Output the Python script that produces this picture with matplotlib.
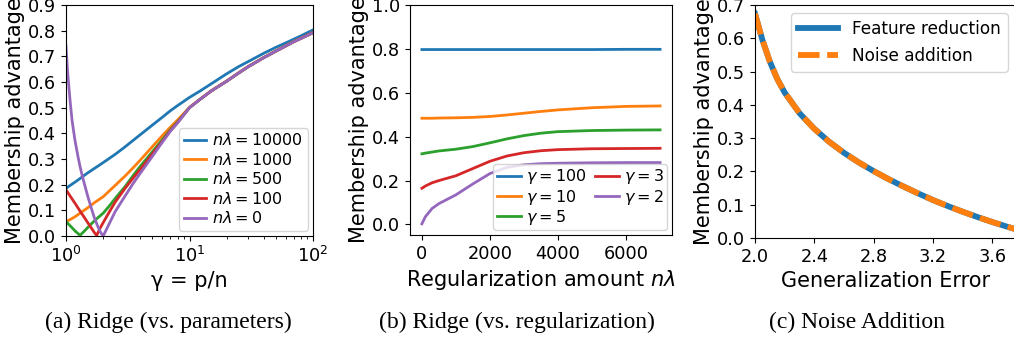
import matplotlib
matplotlib.use("Agg")
import matplotlib.pyplot as plt

# ---------------------------------------------
# (a) Ridge vs. parameters  (gamma = p/n, log x)
# ---------------------------------------------
gamma_blue = [1.0, 1.2, 1.5, 2.0, 2.5, 3.0, 4.0, 5.0, 6.0, 7.0, 8.0, 10.0, 12.0, 15.0, 20.0,
              25.0, 30.0, 40.0, 50.0, 60.0, 70.0, 80.0, 100.0]
adv_blue = [0.186, 0.212, 0.246, 0.286, 0.318, 0.347, 0.395, 0.432, 0.462, 0.488, 0.508, 0.54,
            0.563, 0.593, 0.632, 0.66, 0.68, 0.712, 0.735, 0.752, 0.767, 0.78, 0.803]

gamma_orange = [1.0, 1.1, 1.2, 1.3, 1.5, 1.7, 2.0, 2.5, 3.0, 3.5, 4.0, 5.0, 6.0, 7.0, 8.0, 10.0,
                12.0, 15.0, 20.0, 25.0, 30.0, 40.0, 50.0, 60.0, 70.0, 80.0, 100.0]
adv_orange = [0.056, 0.066, 0.077, 0.089, 0.11, 0.13, 0.153, 0.197, 0.233, 0.266, 0.296, 0.348,
              0.39, 0.424, 0.452, 0.501, 0.531, 0.566, 0.604, 0.636, 0.661, 0.696, 0.721, 0.741,
              0.758, 0.771, 0.793]

gamma_green = [1.0, 1.1, 1.2, 1.3, 1.4, 1.5, 1.6, 1.8, 2.0, 2.25, 2.5, 3.0, 3.5, 4.0, 5.0, 6.0,
               7.0, 8.0, 10.0, 12.0, 15.0, 20.0, 25.0, 30.0, 40.0, 50.0, 60.0, 70.0, 80.0, 100.0]
adv_green = [0.056, 0.036, 0.017, 0.003, 0.018, 0.033, 0.047, 0.07, 0.089, 0.118, 0.146, 0.192,
             0.236, 0.272, 0.328, 0.374, 0.414, 0.444, 0.5, 0.53, 0.565, 0.603, 0.635, 0.66,
             0.695, 0.72, 0.74, 0.757, 0.77, 0.792]

gamma_red = [1.0, 1.1, 1.2, 1.3, 1.4, 1.5, 1.6, 1.7, 1.77, 1.9, 2.0, 2.25, 2.5, 3.0, 3.5, 4.0,
             5.0, 6.0, 7.0, 8.0, 10.0, 12.0, 15.0, 20.0, 25.0, 30.0, 40.0, 50.0, 60.0, 70.0,
             80.0, 100.0]
adv_red = [0.18, 0.15, 0.123, 0.097, 0.074, 0.052, 0.032, 0.013, 0.002, 0.033, 0.052, 0.095,
           0.132, 0.185, 0.226, 0.26, 0.32, 0.368, 0.411, 0.442, 0.5, 0.53, 0.565, 0.603, 0.635,
           0.66, 0.695, 0.72, 0.74, 0.757, 0.77, 0.792]

gamma_purple = [1.0, 1.03, 1.077, 1.12, 1.18, 1.25, 1.3, 1.38, 1.5, 1.6, 1.7, 1.8, 1.9, 2.0,
                2.25, 2.5, 3.0, 3.5, 4.0, 5.0, 6.0, 7.0, 8.0, 10.0, 12.0, 15.0, 20.0, 25.0,
                30.0, 40.0, 50.0, 60.0, 70.0, 80.0, 100.0]
adv_purple = [0.739, 0.64, 0.531, 0.45, 0.375, 0.31, 0.27, 0.219, 0.155, 0.11, 0.07, 0.04, 0.015,
              0.0, 0.05, 0.095, 0.155, 0.205, 0.245, 0.31, 0.364, 0.408, 0.44, 0.5, 0.53, 0.565,
              0.603, 0.635, 0.66, 0.695, 0.72, 0.74, 0.757, 0.77, 0.792]

labels_a = [r"$n\lambda = 10000$", r"$n\lambda = 1000$", r"$n\lambda = 500$",
            r"$n\lambda = 100$", r"$n\lambda = 0$"]

# ---------------------------------------------
# (b) Ridge vs. regularization amount
# ---------------------------------------------
reg_x = [0, 100, 300, 500, 1000, 1500, 2000, 2500, 3000, 3500, 4000, 5000, 6000, 7000]
adv_g100 = [0.797, 0.797, 0.797, 0.797, 0.797, 0.797, 0.797, 0.797, 0.797, 0.797, 0.797, 0.797, 0.798, 0.798]
adv_g10 = [0.484, 0.484, 0.484, 0.485, 0.486, 0.488, 0.492, 0.499, 0.507, 0.515, 0.522, 0.532, 0.538, 0.540]
adv_g5 = [0.322, 0.325, 0.33, 0.335, 0.343, 0.355, 0.372, 0.39, 0.405, 0.416, 0.423, 0.428, 0.43, 0.431]
adv_g3 = [0.165, 0.175, 0.19, 0.2, 0.222, 0.255, 0.288, 0.312, 0.327, 0.336, 0.341, 0.345, 0.346, 0.347]
adv_g2 = [0.003, 0.035, 0.073, 0.095, 0.135, 0.185, 0.232, 0.26, 0.272, 0.277, 0.279, 0.281, 0.282, 0.282]
labels_b = [r"$\gamma = 100$", r"$\gamma = 10$", r"$\gamma = 5$", r"$\gamma = 3$", r"$\gamma = 2$"]

# ---------------------------------------------
# (c) Noise addition vs. feature reduction
# ---------------------------------------------
gen_err = [2.0, 2.05, 2.1, 2.15, 2.2, 2.3, 2.4, 2.5, 2.6, 2.7, 2.8, 2.9, 3.0, 3.1, 3.2, 3.3,
           3.4, 3.5, 3.6, 3.7, 3.76]
adv_c = [0.674, 0.595, 0.53, 0.478, 0.437, 0.375, 0.328, 0.289, 0.256, 0.227, 0.201, 0.177,
         0.155, 0.134, 0.114, 0.096, 0.079, 0.063, 0.048, 0.034, 0.026]

captions = ["(a) Ridge (vs. parameters)", "(b) Ridge (vs. regularization)", "(c) Noise Addition"]

W, H = 1014, 341
fig = plt.figure(figsize=(W / 100, H / 100), dpi=100)

def box(l, r, t, b):
    return [l / W, 1 - b / H, (r - l) / W, (b - t) / H]

TICK = 12.8
LAB = 15

# --- panel a
ax1 = fig.add_axes(box(66, 313, 5, 236))
ax1.plot(gamma_blue, adv_blue, lw=2, label=labels_a[0])
ax1.plot(gamma_orange, adv_orange, lw=2, label=labels_a[1])
ax1.plot(gamma_green, adv_green, lw=2, label=labels_a[2])
ax1.plot(gamma_red, adv_red, lw=2, label=labels_a[3])
ax1.plot(gamma_purple, adv_purple, lw=2, label=labels_a[4])
ax1.set_xscale("log")
ax1.set_xlim(1, 100)
ax1.set_ylim(0, 0.9)
ax1.set_yticks([0.0, 0.1, 0.2, 0.3, 0.4, 0.5, 0.6, 0.7, 0.8, 0.9])
ax1.tick_params(labelsize=TICK)
ax1.set_xlabel("γ = p/n", fontsize=LAB)
ax1.set_ylabel("Membership advantage", fontsize=LAB, labelpad=2)
ax1.legend(loc="lower right", fontsize=11.5, handlelength=1.4, handletextpad=0.4,
           borderpad=0.3, labelspacing=0.22, borderaxespad=0.3)

# --- panel b
ax2 = fig.add_axes(box(410, 672, 5, 235))
ax2.plot(reg_x, adv_g100, lw=2, label=labels_b[0])
ax2.plot(reg_x, adv_g10, lw=2, label=labels_b[1])
ax2.plot(reg_x, adv_g5, lw=2, label=labels_b[2])
ax2.plot(reg_x, adv_g3, lw=2, label=labels_b[3])
ax2.plot(reg_x, adv_g2, lw=2, label=labels_b[4])
ax2.set_xlim(-350, 7350)
ax2.set_ylim(-0.048, 1.0)
ax2.set_xticks([0, 2000, 4000, 6000])
ax2.tick_params(labelsize=TICK)
ax2.set_xlabel(r"Regularization amount $n\lambda$", fontsize=LAB)
ax2.set_ylabel("Membership advantage", fontsize=LAB, labelpad=2)
ax2.legend(loc="lower right", ncol=2, fontsize=11.5, handlelength=1.5, handletextpad=0.35,
           borderpad=0.2, labelspacing=0.08, columnspacing=0.5, borderaxespad=0.3)

# --- panel c (right edge runs past the figure, as in the reference)
ax3 = fig.add_axes(box(755, 1016, 5, 238))
ax3.plot(gen_err, adv_c, lw=4.2, color="#1f77b4", label="Feature reduction")
ax3.plot(gen_err, adv_c, lw=4.2, color="#ff7f0e", ls=(0, (3.7, 1.3)), label="Noise addition")
ax3.set_xlim(2.0, 3.76)
ax3.set_ylim(0, 0.7)
ax3.set_xticks([2.0, 2.4, 2.8, 3.2, 3.6])
ax3.set_yticks([0.0, 0.1, 0.2, 0.3, 0.4, 0.5, 0.6, 0.7])
ax3.tick_params(labelsize=TICK)
ax3.set_xlabel("Generalization Error", fontsize=LAB)
ax3.set_ylabel("Membership advantage", fontsize=LAB, labelpad=2)
ax3.legend(loc="upper right", fontsize=12.2, handlelength=2.4)

# captions under each panel
for cx, txt in zip([168, 517, 857], captions):
    fig.text(cx / W, 1 - 322 / H, txt, ha="center", va="center",
             family="Liberation Serif", fontsize=17)

fig.savefig("out.png", dpi=100)
